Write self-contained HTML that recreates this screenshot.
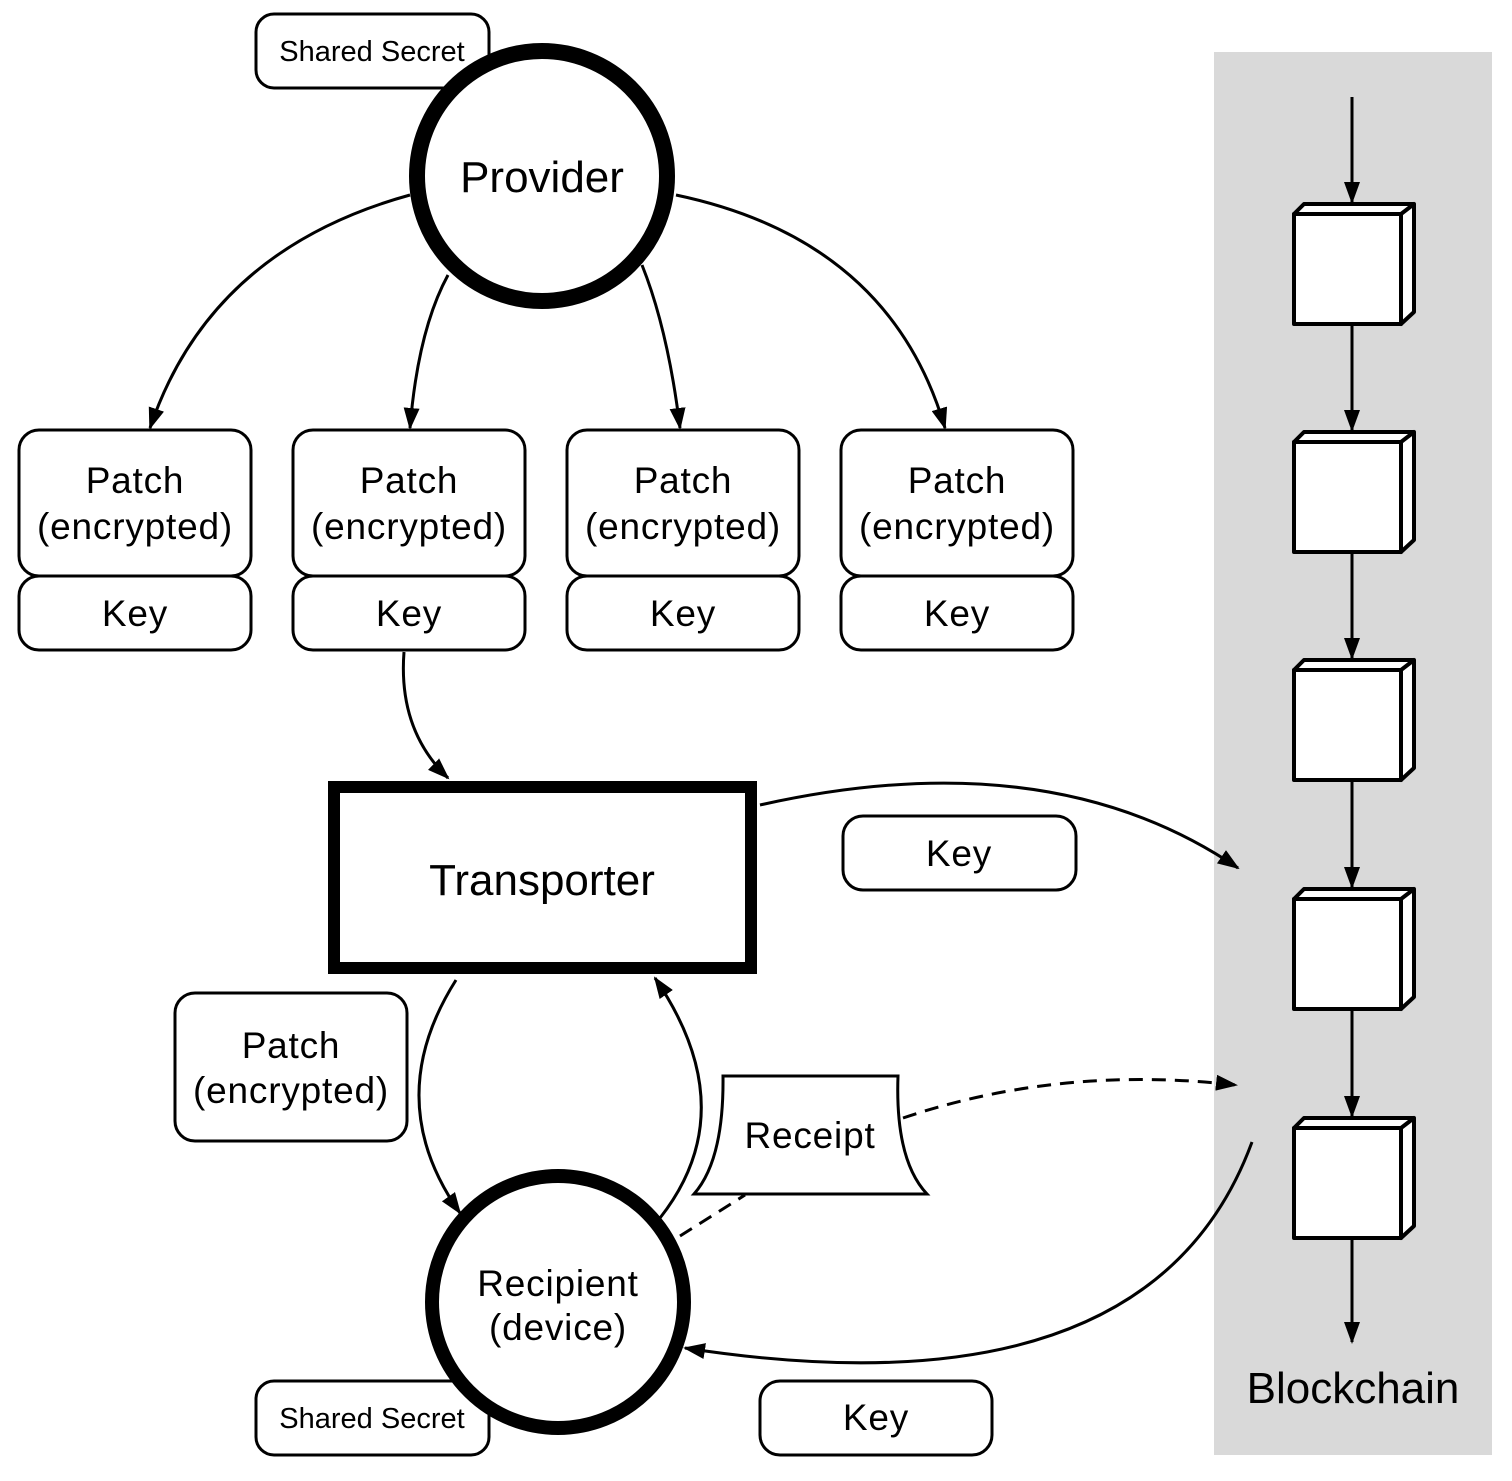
<!DOCTYPE html>
<html><head><meta charset="utf-8"><style>
html,body{margin:0;padding:0;background:#fff}
svg{display:block}
text{font-family:"Liberation Sans",sans-serif;fill:#000;text-anchor:middle}
</style></head><body>
<svg width="1512" height="1481" viewBox="0 0 1512 1481" xmlns="http://www.w3.org/2000/svg">
<defs>
<marker id="a" markerWidth="22" markerHeight="16" refX="20" refY="8" orient="auto" markerUnits="userSpaceOnUse">
<path d="M0,0 L22,8 L0,16 Z" fill="#000"/></marker>
</defs>
<rect x="1214" y="52" width="278" height="1403" fill="#d9d9d9"/>
<g fill="none" stroke="#000" stroke-width="3">
<line x1="1352" y1="97" x2="1352" y2="202" marker-end="url(#a)"/>
<line x1="1352" y1="324" x2="1352" y2="430" marker-end="url(#a)"/>
<line x1="1352" y1="553" x2="1352" y2="658" marker-end="url(#a)"/>
<line x1="1352" y1="782" x2="1352" y2="887" marker-end="url(#a)"/>
<line x1="1352" y1="1010" x2="1352" y2="1116" marker-end="url(#a)"/>
<line x1="1352" y1="1240" x2="1352" y2="1342" marker-end="url(#a)"/>
<path d="M410,195 Q210,250 150,428" marker-end="url(#a)"/>
<path d="M448,275 Q418,330 410,428" marker-end="url(#a)"/>
<path d="M642,265 Q668,330 680,428" marker-end="url(#a)"/>
<path d="M676,195 Q890,240 945,428" marker-end="url(#a)"/>
<path d="M404,652 Q398,730 448,778" marker-end="url(#a)"/>
<path d="M760,805 Q1050,740 1238,868" marker-end="url(#a)"/>
<path d="M456,980 Q380,1100 460,1213" marker-end="url(#a)"/>
<path d="M660,1218 Q745,1110 655,978" marker-end="url(#a)"/>
<path d="M1252,1142 Q1150,1420 685,1348" marker-end="url(#a)"/>
<path d="M903,1118 Q1060,1065 1236,1085" stroke-dasharray="14,9" marker-end="url(#a)"/>
<path d="M680,1236 L745,1195" stroke-dasharray="14,9"/>
</g>
<g fill="#fff" stroke="#000" stroke-width="4" stroke-linejoin="round">
<g id="b"><rect x="1294" y="214" width="107" height="110"/><path d="M1294,214 L1304,204 L1414,204 L1401,214 Z M1401,214 L1414,204 L1414,312 L1401,324 Z"/></g>
<use href="#b" y="228"/><use href="#b" y="456"/><use href="#b" y="685"/><use href="#b" y="914"/>
</g>
<g fill="#fff" stroke="#000" stroke-width="3">
<rect x="256" y="14" width="233" height="74" rx="18"/>
<rect x="256" y="1381" width="233" height="74" rx="18"/>
<rect x="19" y="430" width="232" height="146" rx="20"/><rect x="19" y="576" width="232" height="74" rx="20"/>
<rect x="293" y="430" width="232" height="146" rx="20"/><rect x="293" y="576" width="232" height="74" rx="20"/>
<rect x="567" y="430" width="232" height="146" rx="20"/><rect x="567" y="576" width="232" height="74" rx="20"/>
<rect x="841" y="430" width="232" height="146" rx="20"/><rect x="841" y="576" width="232" height="74" rx="20"/>
<rect x="843" y="816" width="233" height="74" rx="20"/>
<rect x="175" y="993" width="232" height="148" rx="20"/>
<rect x="760" y="1381" width="232" height="74" rx="20"/>
<path d="M723,1076 L898,1076 Q895,1160 927,1194 L694,1194 Q724,1160 723,1076 Z"/>
</g>
<g fill="#fff" stroke="#000">
<circle cx="542" cy="176" r="125" stroke-width="16"/>
<circle cx="558" cy="1302" r="126" stroke-width="14"/>
<rect x="334" y="787" width="417" height="181" stroke-width="12"/>
</g>
<g font-size="29"><text x="372" y="61">Shared Secret</text><text x="372" y="1428">Shared Secret</text></g>
<g font-size="37" letter-spacing="0.8">
<text x="135" y="493">Patch</text><text x="135" y="539">(encrypted)</text><text x="135" y="626">Key</text>
<text x="409" y="493">Patch</text><text x="409" y="539">(encrypted)</text><text x="409" y="626">Key</text>
<text x="683" y="493">Patch</text><text x="683" y="539">(encrypted)</text><text x="683" y="626">Key</text>
<text x="957" y="493">Patch</text><text x="957" y="539">(encrypted)</text><text x="957" y="626">Key</text>
<text x="959" y="866">Key</text>
<text x="291" y="1058">Patch</text><text x="291" y="1103">(encrypted)</text>
<text x="876" y="1430">Key</text>
<text x="810" y="1148">Receipt</text>
<text x="558" y="1296">Recipient</text><text x="558" y="1340">(device)</text>
</g>
<g font-size="44">
<text x="542" y="192">Provider</text>
<text x="542" y="895">Transporter</text>
<text x="1353" y="1403">Blockchain</text>
</g>
</svg>
</body></html>
